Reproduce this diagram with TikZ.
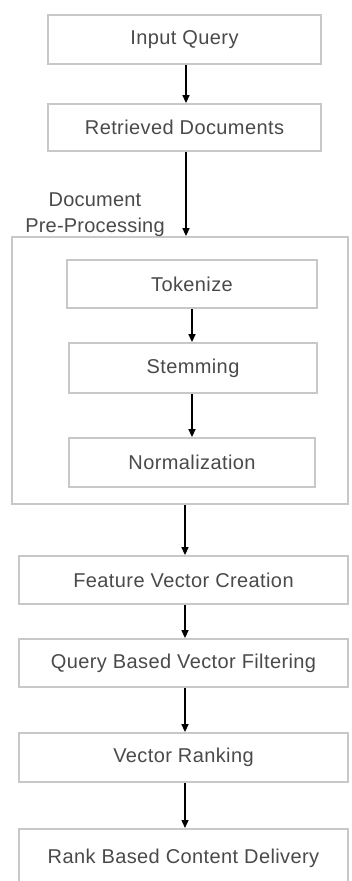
\documentclass[tikz,border=0pt]{standalone}
\usepackage{fontspec}
\setmainfont{Liberation Sans}
\usetikzlibrary{arrows.meta,calc}
\definecolor{boxgray}{HTML}{C8C8C8}
\definecolor{txtgray}{HTML}{4A4A4A}
\newcommand{\boxfont}{\fontsize{20}{24}\selectfont\addfontfeature{LetterSpace=2}}
\begin{document}
\begin{tikzpicture}[x=1pt,y=-1pt,
  stepbox/.style={draw=boxgray,line width=1.8pt,rectangle,inner sep=0pt,
    text=txtgray,font=\boxfont},
  flow/.style={draw=black,line width=1.3pt,-{Triangle[length=8pt,width=7pt]}},
  lbl/.style={text=txtgray,font=\fontsize{20}{26}\selectfont\addfontfeature{LetterSpace=1},align=center,inner sep=0pt}]
\useasboundingbox (0,0) rectangle (351,881);
\clip (0,0) rectangle (351,881);
\fill[white] (0,0) rectangle (351,881);
% top boxes
\node[stepbox,minimum width=273pt,minimum height=49pt] (inq) at (184.5,39.5) {Input Query};
\node[stepbox,minimum width=273pt,minimum height=47pt] (ret) at (184.5,127.5) {Retrieved Documents};
% outer group
\node[draw=boxgray,line width=1.8pt,rectangle,minimum width=336pt,minimum height=267pt,inner sep=0pt] (pre) at (180,370.5) {};
\node[lbl] (prelbl) at (95,215) {Document\\Pre-Processing};
% inner boxes
\node[stepbox,minimum width=250pt,minimum height=48pt] (tok) at (192,284) {Tokenize};
\node[stepbox,minimum width=248pt,minimum height=50pt] (stem) at (193,368) {Stemming};
\node[stepbox,minimum width=246pt,minimum height=49pt] (norm) at (192,462.5) {Normalization};
% bottom boxes
\node[stepbox,minimum width=329pt,minimum height=48pt] (feat) at (183.5,580) {Feature Vector Creation};
\node[stepbox,minimum width=329pt,minimum height=48pt] (filt) at (183.5,663) {Query Based Vector Filtering};
\node[stepbox,minimum width=329pt,minimum height=49pt] (rank) at (183.5,757.5) {Vector Ranking};
\node[stepbox,minimum width=329pt,minimum height=60pt,anchor=north] (deliv) at (183.5,828) {};
\node[text=txtgray,font=\boxfont,inner sep=0pt] (delivtxt) at (183.5,858) {Rank Based Content Delivery};
% arrow end points
\coordinate (a1s) at ($(inq.south)+(1.5,0)$);
\coordinate (a1e) at ($(ret.north)+(1.5,0)$);
\coordinate (a2s) at ($(ret.south)+(1.5,0)$);
\coordinate (a2e) at (a2s |- pre.north);
\coordinate (a5s) at ($(pre.south)+(5,0)$);
\coordinate (a5e) at (a5s |- feat.north);
% arrows
\draw[flow] (a1s) -- (a1e);
\draw[flow] (a2s) -- (a2e);
\draw[flow] (tok.south) -- (tok.south |- stem.north);
\draw[flow] (stem.south -| tok.south) -- (tok.south |- norm.north);
\draw[flow] (a5s) -- (a5e);
\draw[flow] ($(feat.south)+(1.5,0)$) -- ($(filt.north)+(1.5,0)$);
\draw[flow] ($(filt.south)+(1.5,0)$) -- ($(rank.north)+(1.5,0)$);
\draw[flow] ($(rank.south)+(1.5,0)$) -- ($(deliv.north)+(1.5,0)$);
\end{tikzpicture}
\end{document}
